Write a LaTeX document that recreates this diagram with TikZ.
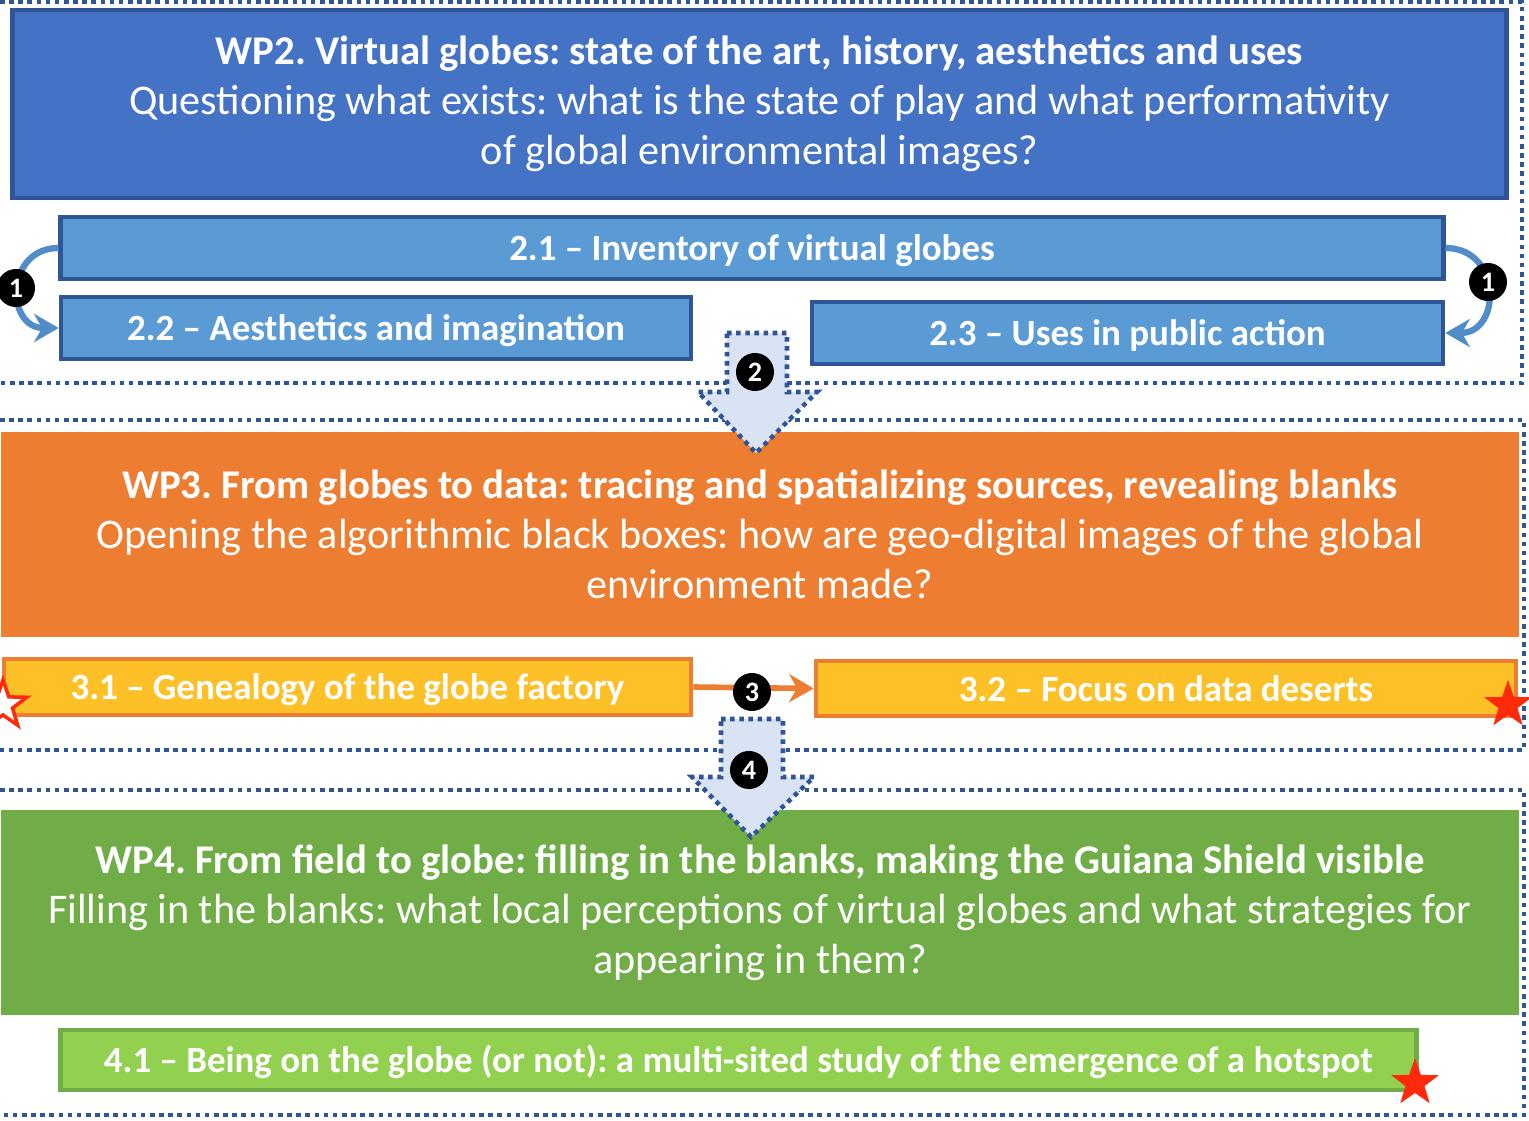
\documentclass[tikz,border=0pt]{standalone}
\usepackage{fontspec}
\setmainfont{Carlito}
\usetikzlibrary{shapes.geometric,arrows.meta}
\definecolor{wpblue}{HTML}{4472C4}
\definecolor{subblue}{HTML}{5B9BD5}
\definecolor{darkblue}{HTML}{2F5597}
\definecolor{wporange}{HTML}{ED7D31}
\definecolor{subyellow}{HTML}{FDC026}
\definecolor{wpgreen}{HTML}{70AD47}
\definecolor{subgreen}{HTML}{92D050}
\definecolor{paleblue}{HTML}{DAE3F3}
\definecolor{starred}{HTML}{FF2A0A}
\frenchspacing
\newcommand{\wptitle}[1]{{\fontsize{11.6}{14.2}\selectfont\bfseries #1}}

\begin{document}
\begin{tikzpicture}[x=0.01cm,y=-0.01cm]
\tikzstyle{every node}+=[font=\fontsize{12}{14.2}\selectfont, text=white]
\tikzstyle{wpbox}=[draw, line width=1.2pt, align=center, inner sep=0pt]
\tikzstyle{subbox}=[draw, line width=1.2pt, align=center, inner sep=0pt, text height=9.5pt, text depth=2.2pt, font=\fontsize{10.5}{12}\selectfont\bfseries]
\tikzstyle{numdot}=[circle, fill=black, minimum size=0.38cm, inner sep=0pt, font=\fontsize{8}{9}\selectfont\bfseries]
\tikzstyle{frame}=[darkblue, line width=1.3pt, dash pattern=on 1.3pt off 1.3pt]
\tikzstyle{blockarrow}=[fill=paleblue, draw=darkblue, line width=1.3pt, dash pattern=on 1.3pt off 1.3pt]
\tikzstyle{hotstar}=[star, star points=5, star point ratio=2.5, minimum size=0.5cm, inner sep=0pt]
\useasboundingbox (0,0) rectangle (1529,1121);
% dotted frames
\draw[frame] (0,2) -- (1522,2) -- (1522,383) -- (0,383);
\draw[frame] (0,420) -- (1524,420) -- (1524,750) -- (0,750);
\draw[frame] (0,790) -- (1524,790) -- (1524,1115) -- (0,1115);
% WP2
\node[wpbox, fill=wpblue, draw=darkblue, minimum width=14.93cm, minimum height=1.88cm] (wp2) at (759.5,104)
 {\wptitle{WP2. Virtual globes: state of the art, history, aesthetics and uses}\\
  Questioning what exists: what is the state of play and what performativity\\
  of global environmental images?};
\node[subbox, fill=subblue, draw=darkblue, minimum width=13.82cm, minimum height=0.62cm] (s21) at (752,248) {2.1 – Inventory of virtual globes};
\node[subbox, fill=subblue, draw=darkblue, minimum width=6.30cm, minimum height=0.62cm] (s22) at (376,328) {2.2 – Aesthetics and imagination};
\node[subbox, fill=subblue, draw=darkblue, minimum width=6.31cm, minimum height=0.62cm] (s23) at (1127.5,333) {2.3 – Uses in public action};
\draw[subblue!80!darkblue, line width=1.8pt, -{Stealth[length=7pt,width=8pt]}] (s21.west) to[out=180, in=180, looseness=1.7] (s22.west);
\draw[subblue!80!darkblue, line width=1.8pt, -{Stealth[length=7pt,width=8pt]}] (s21.east) to[out=0, in=0, looseness=1.7] (s23.east);
\node[numdot] (n1a) at (16,288) {1};
\node[numdot] (n1b) at (1488,282) {1};
% WP3
\node[wpbox, fill=wporange, draw=wporange, minimum width=15.12cm, minimum height=2.01cm] (wp3) at (760,534.5)
 {\wptitle{WP3. From globes to data: tracing and spatializing sources, revealing blanks}\\
  Opening the algorithmic black boxes: how are geo-digital images of the global\\
  environment made?};
\draw[blockarrow] (727,333) -- (787,333) -- (787,392) -- (817,392) -- (756,453) -- (698,392) -- (727,392) -- cycle;
\node[numdot] (n2) at (755,372) {2};
\node[subbox, fill=subyellow, draw=wporange, minimum width=6.87cm, minimum height=0.56cm] (s31) at (347.5,687) {3.1 – Genealogy of the globe factory};
\node[subbox, fill=subyellow, draw=wporange, minimum width=7.00cm, minimum height=0.55cm] (s32) at (1166,688.5) {3.2 – Focus on data deserts};
\draw[wporange, line width=1.6pt, -{Stealth[length=7pt,width=8pt]}] (s31.east) -- (s32.west);
\node[numdot] (n3) at (752,692) {3};
\node[hotstar, fill=white, draw=starred, line width=1pt] (st1) at (3,705) {};
\node[hotstar, fill=starred] (st2) at (1508,705) {};
% WP4
\node[wpbox, fill=wpgreen, draw=wpgreen, minimum width=15.12cm, minimum height=2.01cm] (wp4) at (760,912.5)
 {\wptitle{WP4. From field to globe: filling in the blanks, making the Guiana Shield visible}\\
  Filling in the blanks: what local perceptions of virtual globes and what strategies for\\
  appearing in them?};
\draw[blockarrow] (721,719) -- (783,719) -- (783,777) -- (814,777) -- (751,837) -- (692,777) -- (721,777) -- cycle;
\node[numdot] (n4) at (749,770) {4};
\node[subbox, fill=subgreen, draw=wpgreen, minimum width=13.55cm, minimum height=0.60cm] (s41) at (738.5,1060) {4.1 – Being on the globe (or not): a multi-sited study of the emergence of a hotspot};
\node[hotstar, fill=starred] (st3) at (1415,1083) {};
\end{tikzpicture}
\end{document}
